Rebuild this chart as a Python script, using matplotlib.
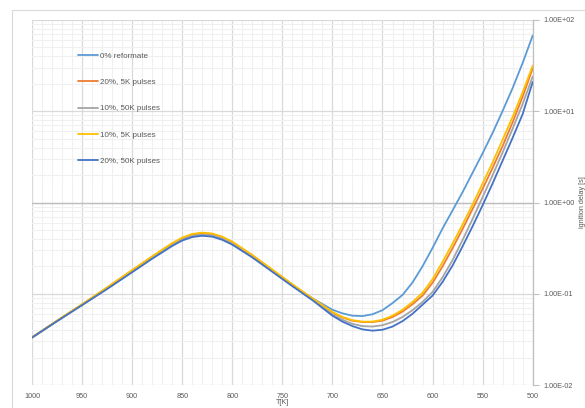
import matplotlib
matplotlib.use("Agg")
import matplotlib.pyplot as plt
from matplotlib.patches import Rectangle
from matplotlib.ticker import FixedLocator, LogLocator, NullFormatter, FuncFormatter

# Temperature grid [K]
temperature = [1000, 975, 950, 925, 900, 880, 860, 850, 840, 830, 820, 810, 800,
               780, 760, 740, 720, 700, 690, 680, 670, 660, 650, 640, 630, 620,
               610, 600, 590, 580, 570, 560, 550, 540, 530, 520, 510, 500]

# Ignition delay [s] for each mixture
delay_0pct_reformate = [0.0331, 0.0505, 0.0759, 0.1148, 0.178, 0.251, 0.348, 0.398, 0.437, 0.452,
                        0.442, 0.407, 0.360, 0.259, 0.180, 0.125, 0.0891, 0.0668, 0.0610, 0.0575,
                        0.0569, 0.0596, 0.0661, 0.0790, 0.0970, 0.1330, 0.200, 0.318, 0.520, 0.820,
                        1.300, 2.120, 3.470, 5.80, 10.10, 18.0, 33.9, 67.6]
delay_20pct_5k = [0.0331, 0.0505, 0.0763, 0.1165, 0.180, 0.254, 0.355, 0.407, 0.446, 0.462,
                  0.452, 0.417, 0.368, 0.264, 0.182, 0.126, 0.0881, 0.0624, 0.0550, 0.0507,
                  0.0490, 0.0490, 0.0507, 0.0556, 0.0638, 0.0767, 0.0955, 0.1318, 0.1995, 0.316,
                  0.513, 0.851, 1.413, 2.399, 4.17, 7.59, 14.45, 29.5]
delay_10pct_50k = [0.0331, 0.0502, 0.0755, 0.1140, 0.175, 0.247, 0.344, 0.394, 0.432, 0.447,
                   0.437, 0.403, 0.355, 0.255, 0.177, 0.123, 0.0871, 0.0596, 0.0519, 0.0468,
                   0.0442, 0.0437, 0.0452, 0.0490, 0.0556, 0.0661, 0.0813, 0.1047, 0.1514, 0.234,
                   0.389, 0.661, 1.148, 1.995, 3.548, 6.46, 12.02, 24.0]
delay_10pct_5k = [0.0331, 0.0507, 0.0767, 0.1175, 0.182, 0.257, 0.359, 0.412, 0.452, 0.468,
                  0.457, 0.422, 0.372, 0.266, 0.184, 0.127, 0.0891, 0.0631, 0.0556, 0.0513,
                  0.0495, 0.0495, 0.0519, 0.0575, 0.0668, 0.0813, 0.1023, 0.1445, 0.224, 0.355,
                  0.575, 0.955, 1.622, 2.754, 4.90, 8.71, 16.2, 31.6]
delay_20pct_50k = [0.0331, 0.0500, 0.0750, 0.1127, 0.172, 0.242, 0.334, 0.383, 0.418, 0.432,
                   0.422, 0.390, 0.345, 0.250, 0.174, 0.121, 0.0851, 0.0575, 0.0495, 0.0442,
                   0.0407, 0.0394, 0.0403, 0.0437, 0.0501, 0.0603, 0.0759, 0.0955, 0.1349, 0.204,
                   0.331, 0.550, 0.933, 1.622, 2.884, 5.13, 9.33, 20.9]

series_labels = ["0% reformate", "20%, 5K pulses", "10%, 50K pulses",
                 "10%, 5K pulses", "20%, 50K pulses"]
series_colors = ["#5B9BD5", "#ED7D31", "#A5A5A5", "#FFC000", "#4472C4"]
series_values = [delay_0pct_reformate, delay_20pct_5k, delay_10pct_50k,
                 delay_10pct_5k, delay_20pct_50k]

x_ticks = [1000, 950, 900, 850, 800, 750, 700, 650, 600, 550, 500]
y_ticks = [1e-2, 1e-1, 1e0, 1e1, 1e2]

text_color = "#595959"
tick_size = 5.2
plt.rcParams["font.family"] = ["Liberation Sans", "DejaVu Sans"]

fig = plt.figure(figsize=(5.85, 4.08), dpi=100)
fig.patch.set_facecolor("white")

# outer chart-area border
fig.patches.append(Rectangle((12 / 585, -0.1), 1.2, 1 - 10 / 408 + 0.1,
                             transform=fig.transFigure, fill=False,
                             edgecolor="#d9d9d9", linewidth=0.8))

ax = fig.add_axes([32 / 585, 1 - 385 / 408, (532.7 - 32) / 585, (385 - 20) / 408])

for label, color, values in zip(series_labels, series_colors, series_values):
    ax.plot(temperature, values, color=color, linewidth=1.3, label=label,
            solid_capstyle="round", zorder=3)

ax.set_yscale("log")
ax.set_xlim(1000, 500)
ax.set_ylim(1e-2, 1e2)

ax.xaxis.set_major_locator(FixedLocator(x_ticks))
ax.xaxis.set_minor_locator(FixedLocator(list(range(500, 1001, 10))))
ax.yaxis.set_major_locator(FixedLocator(y_ticks))
ax.yaxis.set_minor_locator(LogLocator(base=10, subs=range(2, 10)))
ax.yaxis.set_minor_formatter(NullFormatter())
ax.yaxis.set_major_formatter(FuncFormatter(lambda v, p: f"{v:.2E}"))

ax.grid(which="major", color="#d9d9d9", linewidth=0.9)
ax.grid(which="minor", color="#f0f0f0", linewidth=0.8)
ax.set_axisbelow(True)

# horizontal axis crosses the value axis at 1
ax.axhline(1.0, color="#bfbfbf", linewidth=1.0, zorder=2)

for side in ["top", "left", "bottom"]:
    ax.spines[side].set_visible(False)
ax.spines["right"].set_color("#bfbfbf")
ax.spines["right"].set_linewidth(0.9)

ax.yaxis.tick_right()
ax.yaxis.set_label_position("right")
ax.tick_params(axis="y", which="major", direction="out", length=4, width=0.8,
               color="#bfbfbf", labelsize=tick_size, labelcolor=text_color, pad=4)
ax.tick_params(axis="y", which="minor", length=0)
ax.tick_params(axis="x", which="both", length=0, labelsize=tick_size,
               labelcolor=text_color, pad=6)

ax.set_xlabel("T[K]", fontsize=tick_size, color=text_color, labelpad=-1)
ax.set_ylabel("ignition delay [s]", fontsize=tick_size, color=text_color,
              rotation=90, labelpad=3)

leg = ax.legend(loc="upper left", bbox_to_anchor=(0.085, 0.92), frameon=False,
                fontsize=5.8, labelcolor=text_color, handlelength=2.5,
                handletextpad=0.25, labelspacing=2.3, borderaxespad=0)

fig.savefig("out.png", dpi=100, facecolor="white")
